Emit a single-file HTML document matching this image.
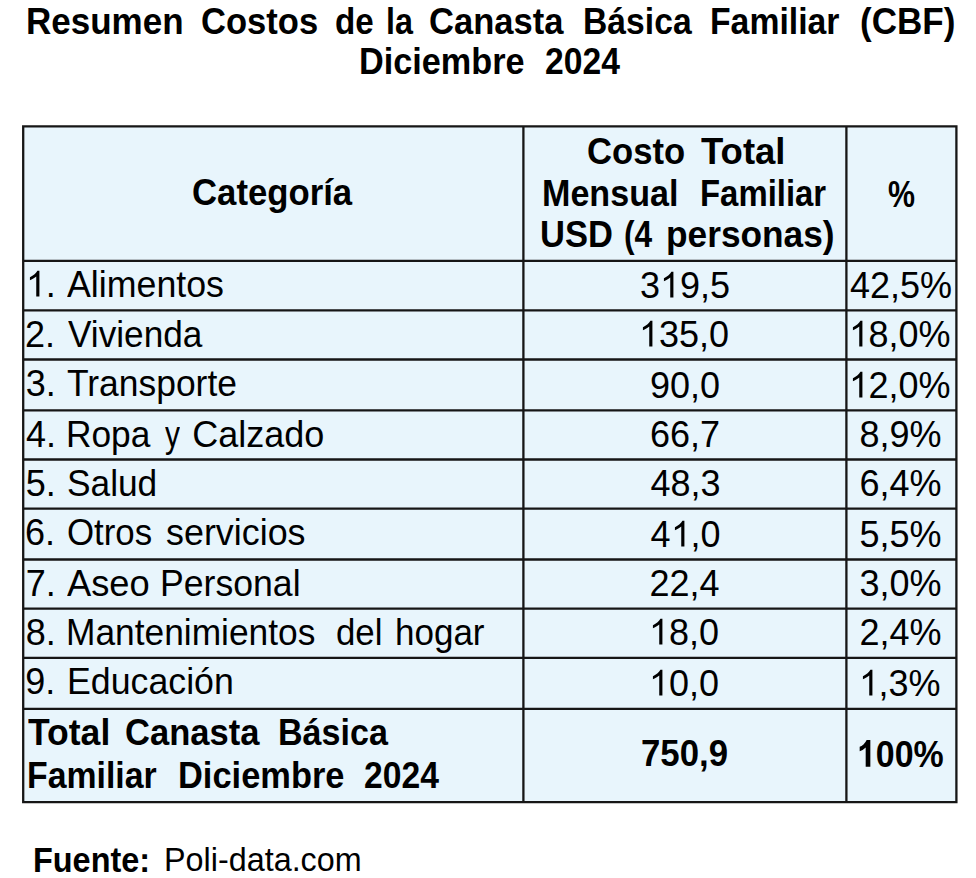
<!DOCTYPE html>
<html><head><meta charset="utf-8"><style>
html,body{margin:0;padding:0;background:#fff;width:976px;height:878px;overflow:hidden;position:relative}
.t{position:absolute;font-family:"Liberation Sans",sans-serif;color:#000;white-space:pre}
.o{position:relative;color:transparent}.o svg{position:absolute;left:0;top:0;width:0.5562em;height:1.1172em;overflow:visible}.o path{fill:#000}
</style></head><body>
<svg width="976" height="878" style="position:absolute;left:0;top:0"><rect x="23.2" y="126.45" width="933.20" height="675.75" fill="#E8F5FC"/><path d="M23.2 125.30V803.35 M523.4 125.30V803.35 M846.4 125.30V803.35 M956.4 125.30V803.35 M22.05 126.45H957.55 M22.05 260.9H957.55 M22.05 310.3H957.55 M22.05 359.5H957.55 M22.05 410.3H957.55 M22.05 459.5H957.55 M22.05 508.6H957.55 M22.05 559.5H957.55 M22.05 608.6H957.55 M22.05 657.9H957.55 M22.05 708.8H957.55 M22.05 802.2H957.55" stroke="#161616" stroke-width="2.3" fill="none"/></svg>
<div class="t" style="left:26.00px;top:3.50px;font-size:35px;line-height:35px;font-weight:bold;transform:scale(1.0000,1.0600);transform-origin:0 30.00px;">Resumen</div>
<div class="t" style="left:201.01px;top:3.50px;font-size:35px;line-height:35px;font-weight:bold;transform:scale(0.9872,1.0600);transform-origin:0 30.00px;">Costos</div>
<div class="t" style="left:334.55px;top:3.50px;font-size:35px;line-height:35px;font-weight:bold;transform:scale(0.9487,1.0600);transform-origin:0 30.00px;">de</div>
<div class="t" style="left:386.08px;top:3.50px;font-size:35px;line-height:35px;font-weight:bold;transform:scale(0.9224,1.0600);transform-origin:0 30.00px;">la</div>
<div class="t" style="left:428.51px;top:3.50px;font-size:35px;line-height:35px;font-weight:bold;transform:scale(0.9871,1.0600);transform-origin:0 30.00px;">Canasta</div>
<div class="t" style="left:582.79px;top:3.50px;font-size:35px;line-height:35px;font-weight:bold;transform:scale(0.9624,1.0600);transform-origin:0 30.00px;">Básica</div>
<div class="t" style="left:710.29px;top:3.50px;font-size:35px;line-height:35px;font-weight:bold;transform:scale(0.9643,1.0600);transform-origin:0 30.00px;">Familiar</div>
<div class="t" style="left:859.90px;top:3.50px;font-size:35px;line-height:35px;font-weight:bold;transform:scale(1.0011,1.0600);transform-origin:0 30.00px;">(CBF)</div>
<div class="t" style="left:359.27px;top:44.00px;font-size:35px;line-height:35px;font-weight:bold;transform:scale(0.9783,1.0600);transform-origin:0 30.00px;">Diciembre</div>
<div class="t" style="left:544.64px;top:44.00px;font-size:35px;line-height:35px;font-weight:bold;transform:scale(0.9615,1.0600);transform-origin:0 30.00px;">2024</div>
<div class="t" style="left:191.76px;top:175.30px;font-size:35px;line-height:35px;font-weight:bold;transform:scale(0.9922,1.0600);transform-origin:0 30.00px;">Categoría</div>
<div class="t" style="left:586.81px;top:133.50px;font-size:35px;line-height:35px;font-weight:bold;transform:scale(0.9888,1.0600);transform-origin:0 30.00px;">Costo</div>
<div class="t" style="left:701.25px;top:133.50px;font-size:35px;line-height:35px;font-weight:bold;transform:scale(1.0431,1.0600);transform-origin:0 30.00px;">Total</div>
<div class="t" style="left:541.53px;top:176.00px;font-size:35px;line-height:35px;font-weight:bold;transform:scale(0.9739,1.0600);transform-origin:0 30.00px;">Mensual</div>
<div class="t" style="left:700.31px;top:176.00px;font-size:35px;line-height:35px;font-weight:bold;transform:scale(0.9398,1.0600);transform-origin:0 30.00px;">Familiar</div>
<div class="t" style="left:539.91px;top:217.00px;font-size:35px;line-height:35px;font-weight:bold;transform:scale(0.9861,1.0600);transform-origin:0 30.00px;">USD</div>
<div class="t" style="left:624.39px;top:217.00px;font-size:35px;line-height:35px;font-weight:bold;transform:scale(0.9065,1.0600);transform-origin:0 30.00px;">(4</div>
<div class="t" style="left:666.49px;top:217.00px;font-size:35px;line-height:35px;font-weight:bold;transform:scale(1.0076,1.0600);transform-origin:0 30.00px;">personas)</div>
<div class="t" style="left:888.20px;top:177.00px;font-size:35px;line-height:35px;font-weight:bold;transform:scale(0.8677,1.0600);transform-origin:0 30.00px;">%</div>
<div class="t" style="left:25.80px;top:267.40px;font-size:36px;line-height:36px;font-weight:normal;"><span class="o">1<svg viewBox="0 0 1139 2288"><path transform="matrix(1 0 0 -1 0 1854)" d="M763 0L583 0L583 1147Q518 1085 415 1024.5Q312 964 223 931L223 1105Q375 1176 486 1275Q597 1374 648 1466L763 1466Z"/></svg></span>.</div>
<div class="t" style="left:66.60px;top:267.40px;font-size:36px;line-height:36px;font-weight:normal;transform:scale(0.9930,1.0000);transform-origin:0 30.00px;">Alimentos</div>
<div class="t" style="left:640.00px;top:267.80px;font-size:36px;line-height:36px;font-weight:normal;">3<span class="o">1<svg viewBox="0 0 1139 2288"><path transform="matrix(1 0 0 -1 0 1854)" d="M763 0L583 0L583 1147Q518 1085 415 1024.5Q312 964 223 931L223 1105Q375 1176 486 1275Q597 1374 648 1466L763 1466Z"/></svg></span>9,5</div>
<div class="t" style="left:850.00px;top:267.80px;font-size:36px;line-height:36px;font-weight:normal;">42,5%</div>
<div class="t" style="left:25.00px;top:316.80px;font-size:36px;line-height:36px;font-weight:normal;">2.</div>
<div class="t" style="left:68.30px;top:316.80px;font-size:36px;line-height:36px;font-weight:normal;transform:scale(0.9775,1.0000);transform-origin:0 30.00px;">Vivienda</div>
<div class="t" style="left:639.00px;top:317.00px;font-size:36px;line-height:36px;font-weight:normal;"><span class="o">1<svg viewBox="0 0 1139 2288"><path transform="matrix(1 0 0 -1 0 1854)" d="M763 0L583 0L583 1147Q518 1085 415 1024.5Q312 964 223 931L223 1105Q375 1176 486 1275Q597 1374 648 1466L763 1466Z"/></svg></span>35,0</div>
<div class="t" style="left:848.50px;top:317.00px;font-size:36px;line-height:36px;font-weight:normal;"><span class="o">1<svg viewBox="0 0 1139 2288"><path transform="matrix(1 0 0 -1 0 1854)" d="M763 0L583 0L583 1147Q518 1085 415 1024.5Q312 964 223 931L223 1105Q375 1176 486 1275Q597 1374 648 1466L763 1466Z"/></svg></span>8,0%</div>
<div class="t" style="left:25.70px;top:366.00px;font-size:36px;line-height:36px;font-weight:normal;">3.</div>
<div class="t" style="left:67.30px;top:366.00px;font-size:36px;line-height:36px;font-weight:normal;transform:scale(0.9837,1.0000);transform-origin:0 30.00px;">Transporte</div>
<div class="t" style="left:650.00px;top:367.80px;font-size:36px;line-height:36px;font-weight:normal;">90,0</div>
<div class="t" style="left:848.50px;top:367.80px;font-size:36px;line-height:36px;font-weight:normal;"><span class="o">1<svg viewBox="0 0 1139 2288"><path transform="matrix(1 0 0 -1 0 1854)" d="M763 0L583 0L583 1147Q518 1085 415 1024.5Q312 964 223 931L223 1105Q375 1176 486 1275Q597 1374 648 1466L763 1466Z"/></svg></span>2,0%</div>
<div class="t" style="left:26.00px;top:416.80px;font-size:36px;line-height:36px;font-weight:normal;">4.</div>
<div class="t" style="left:66.34px;top:416.80px;font-size:36px;line-height:36px;font-weight:normal;transform:scale(0.9800,1.0000);transform-origin:0 30.00px;">Ropa</div>
<div class="t" style="left:165.00px;top:416.80px;font-size:36px;line-height:36px;font-weight:normal;transform:scale(0.8333,1.0000);transform-origin:0 30.00px;">y</div>
<div class="t" style="left:192.20px;top:416.80px;font-size:36px;line-height:36px;font-weight:normal;">Calzado</div>
<div class="t" style="left:650.00px;top:417.00px;font-size:36px;line-height:36px;font-weight:normal;">66,7</div>
<div class="t" style="left:859.50px;top:417.00px;font-size:36px;line-height:36px;font-weight:normal;">8,9%</div>
<div class="t" style="left:25.70px;top:466.00px;font-size:36px;line-height:36px;font-weight:normal;">5.</div>
<div class="t" style="left:67.32px;top:466.00px;font-size:36px;line-height:36px;font-weight:normal;transform:scale(0.9800,1.0000);transform-origin:0 30.00px;">Salud</div>
<div class="t" style="left:650.50px;top:466.10px;font-size:36px;line-height:36px;font-weight:normal;">48,3</div>
<div class="t" style="left:859.50px;top:466.10px;font-size:36px;line-height:36px;font-weight:normal;">6,4%</div>
<div class="t" style="left:25.00px;top:515.10px;font-size:36px;line-height:36px;font-weight:normal;">6.</div>
<div class="t" style="left:67.33px;top:515.10px;font-size:36px;line-height:36px;font-weight:normal;transform:scale(0.9674,1.0000);transform-origin:0 30.00px;">Otros</div>
<div class="t" style="left:166.20px;top:515.10px;font-size:36px;line-height:36px;font-weight:normal;transform:scale(0.9964,1.0000);transform-origin:0 30.00px;">servicios</div>
<div class="t" style="left:650.50px;top:517.00px;font-size:36px;line-height:36px;font-weight:normal;">4<span class="o">1<svg viewBox="0 0 1139 2288"><path transform="matrix(1 0 0 -1 0 1854)" d="M763 0L583 0L583 1147Q518 1085 415 1024.5Q312 964 223 931L223 1105Q375 1176 486 1275Q597 1374 648 1466L763 1466Z"/></svg></span>,0</div>
<div class="t" style="left:859.50px;top:517.00px;font-size:36px;line-height:36px;font-weight:normal;">5,5%</div>
<div class="t" style="left:25.70px;top:566.00px;font-size:36px;line-height:36px;font-weight:normal;">7.</div>
<div class="t" style="left:66.60px;top:566.00px;font-size:36px;line-height:36px;font-weight:normal;transform:scale(1.0074,1.0000);transform-origin:0 30.00px;">Aseo</div>
<div class="t" style="left:159.52px;top:566.00px;font-size:36px;line-height:36px;font-weight:normal;transform:scale(0.9892,1.0000);transform-origin:0 30.00px;">Personal</div>
<div class="t" style="left:649.50px;top:566.10px;font-size:36px;line-height:36px;font-weight:normal;">22,4</div>
<div class="t" style="left:859.50px;top:566.10px;font-size:36px;line-height:36px;font-weight:normal;">3,0%</div>
<div class="t" style="left:25.70px;top:615.10px;font-size:36px;line-height:36px;font-weight:normal;">8.</div>
<div class="t" style="left:66.34px;top:615.10px;font-size:36px;line-height:36px;font-weight:normal;transform:scale(0.9810,1.0000);transform-origin:0 30.00px;">Mantenimientos</div>
<div class="t" style="left:335.53px;top:615.10px;font-size:36px;line-height:36px;font-weight:normal;transform:scale(0.9674,1.0000);transform-origin:0 30.00px;">del</div>
<div class="t" style="left:394.56px;top:615.10px;font-size:36px;line-height:36px;font-weight:normal;transform:scale(0.9722,1.0000);transform-origin:0 30.00px;">hogar</div>
<div class="t" style="left:649.00px;top:615.40px;font-size:36px;line-height:36px;font-weight:normal;"><span class="o">1<svg viewBox="0 0 1139 2288"><path transform="matrix(1 0 0 -1 0 1854)" d="M763 0L583 0L583 1147Q518 1085 415 1024.5Q312 964 223 931L223 1105Q375 1176 486 1275Q597 1374 648 1466L763 1466Z"/></svg></span>8,0</div>
<div class="t" style="left:859.50px;top:615.40px;font-size:36px;line-height:36px;font-weight:normal;">2,4%</div>
<div class="t" style="left:25.25px;top:664.40px;font-size:36px;line-height:36px;font-weight:normal;">9.</div>
<div class="t" style="left:66.77px;top:664.40px;font-size:36px;line-height:36px;font-weight:normal;transform:scale(0.9924,1.0000);transform-origin:0 30.00px;">Educación</div>
<div class="t" style="left:649.00px;top:666.30px;font-size:36px;line-height:36px;font-weight:normal;"><span class="o">1<svg viewBox="0 0 1139 2288"><path transform="matrix(1 0 0 -1 0 1854)" d="M763 0L583 0L583 1147Q518 1085 415 1024.5Q312 964 223 931L223 1105Q375 1176 486 1275Q597 1374 648 1466L763 1466Z"/></svg></span>0,0</div>
<div class="t" style="left:858.50px;top:666.30px;font-size:36px;line-height:36px;font-weight:normal;"><span class="o">1<svg viewBox="0 0 1139 2288"><path transform="matrix(1 0 0 -1 0 1854)" d="M763 0L583 0L583 1147Q518 1085 415 1024.5Q312 964 223 931L223 1105Q375 1176 486 1275Q597 1374 648 1466L763 1466Z"/></svg></span>,3%</div>
<div class="t" style="left:27.50px;top:715.00px;font-size:35px;line-height:35px;font-weight:bold;transform:scale(1.0156,1.0600);transform-origin:0 30.00px;">Total</div>
<div class="t" style="left:125.01px;top:715.00px;font-size:35px;line-height:35px;font-weight:bold;transform:scale(0.9871,1.0600);transform-origin:0 30.00px;">Canasta</div>
<div class="t" style="left:278.03px;top:715.00px;font-size:35px;line-height:35px;font-weight:bold;transform:scale(0.9735,1.0600);transform-origin:0 30.00px;">Básica</div>
<div class="t" style="left:26.53px;top:757.50px;font-size:35px;line-height:35px;font-weight:bold;transform:scale(0.9662,1.0600);transform-origin:0 30.00px;">Familiar</div>
<div class="t" style="left:177.77px;top:757.50px;font-size:35px;line-height:35px;font-weight:bold;transform:scale(0.9836,1.0600);transform-origin:0 30.00px;">Diciembre</div>
<div class="t" style="left:364.29px;top:757.50px;font-size:35px;line-height:35px;font-weight:bold;transform:scale(0.9615,1.0600);transform-origin:0 30.00px;">2024</div>
<div class="t" style="left:640.81px;top:736.40px;font-size:35px;line-height:35px;font-weight:bold;transform:scale(0.9942,1.0600);transform-origin:0 30.00px;">750,9</div>
<div class="t" style="left:856.76px;top:736.60px;font-size:35px;line-height:35px;font-weight:bold;transform:scale(0.9693,1.0600);transform-origin:0 30.00px;"><span class="o">1<svg viewBox="0 0 1139 2288"><path transform="matrix(1 0 0 -1 0 1854)" d="M806 0L525 0L525 1059Q371 915 162 846L162 1101Q272 1137 392 1230Q512 1323 583 1466L806 1466Z"/></svg></span>00%</div>
<div class="t" style="left:32.52px;top:843.50px;font-size:33px;line-height:33px;font-weight:bold;transform:scale(0.9828,1.0600);transform-origin:0 28.00px;">Fuente:</div>
<div class="t" style="left:164.29px;top:843.30px;font-size:33px;line-height:33px;font-weight:normal;transform:scale(0.9799,1.0000);transform-origin:0 28.00px;">Poli-data.com</div>
</body></html>
